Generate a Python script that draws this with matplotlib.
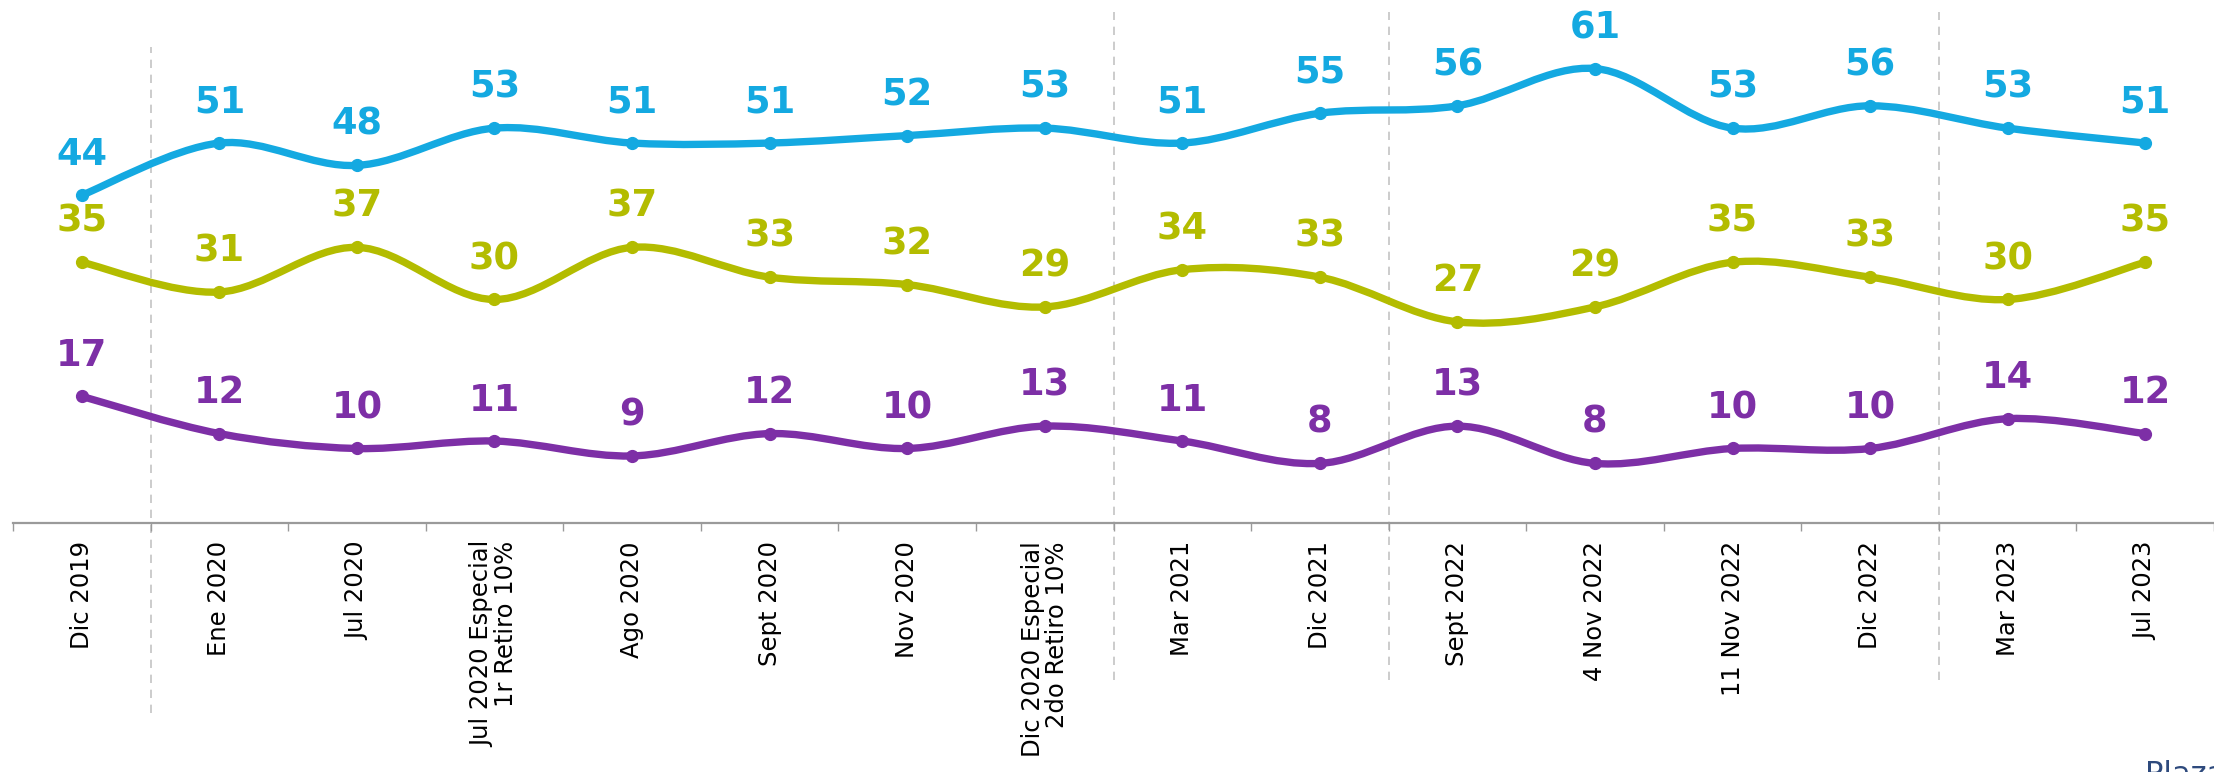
import numpy as np
import matplotlib
matplotlib.use('Agg')
import matplotlib.pyplot as plt
from matplotlib.path import Path
from matplotlib.patches import PathPatch

plt.rcParams['font.family'] = ['DejaVu Sans']

# data
fechas = ['Dic 2019', 'Ene 2020', 'Jul 2020', 'Jul 2020 Especial\n1r Retiro 10%', 'Ago 2020',
          'Sept 2020', 'Nov 2020', 'Dic 2020 Especial\n2do Retiro 10%', 'Mar 2021', 'Dic 2021',
          'Sept 2022', '4 Nov 2022', '11 Nov 2022', 'Dic 2022', 'Mar 2023', 'Jul 2023']
serie_azul = [44, 51, 48, 53, 51, 51, 52, 53, 51, 55, 56, 61, 53, 56, 53, 51]
serie_verde = [35, 31, 37, 30, 37, 33, 32, 29, 34, 33, 27, 29, 35, 33, 30, 35]
serie_morada = [17, 12, 10, 11, 9, 12, 10, 13, 11, 8, 13, 8, 10, 10, 14, 12]
cortes = [0.5, 7.5, 9.5, 13.5]  # dashed separators between groups

colores = {'azul': '#14A9E1', 'verde': '#B3BC00', 'morada': '#7D2FA6'}


def smooth_path(xs, ys):
    # catmull-rom spline drawn as cubic bezier segments
    pts = np.column_stack([xs, ys]).astype(float)
    ext = np.vstack([pts[0], pts, pts[-1]])
    verts = [tuple(pts[0])]
    codes = [Path.MOVETO]
    for i in range(1, len(ext) - 2):
        p0, p1, p2, p3 = ext[i - 1], ext[i], ext[i + 1], ext[i + 2]
        c1 = p1 + (p2 - p0) / 6.0
        c2 = p2 - (p3 - p1) / 6.0
        verts += [tuple(c1), tuple(c2), tuple(p2)]
        codes += [Path.CURVE4] * 3
    return Path(verts, codes)


fig = plt.figure(figsize=(22.14, 7.72), dpi=100)
ax = fig.add_axes([13 / 2214, 249 / 772, 2201 / 2214, 523 / 772])

x = np.arange(len(fechas))
for vals, key in [(serie_azul, 'azul'), (serie_verde, 'verde'), (serie_morada, 'morada')]:
    c = colores[key]
    ax.add_patch(PathPatch(smooth_path(x, vals), facecolor='none', edgecolor=c, lw=5.3,
                           capstyle='round', joinstyle='round', zorder=3))
    ax.plot(x, vals, 'o', color=c, ms=8.5, zorder=4)
    for xi, v in zip(x, vals):
        ax.annotate(str(v), (xi, v), xytext=(0, 29.5), textcoords='offset points',
                    ha='center', va='center', fontsize=26.5, fontweight='bold', color=c)

trans = ax.get_xaxis_transform()
for xc in cortes:
    if xc == 0.5:
        y0, y1 = -0.363, 0.91
    else:
        y0, y1 = -0.30, 0.977
    ax.plot([xc, xc], [y0, y1], transform=trans, color='#c4c4c4', lw=1.2, ls=(0, (5, 4)),
            clip_on=False, zorder=1)

ax.set_xlim(-0.5, len(fechas) - 0.5)
ax.set_ylim(0, 70.2)
for s in ['left', 'top', 'right']:
    ax.spines[s].set_visible(False)
ax.spines['bottom'].set_color('#9a9a9a')
ax.spines['bottom'].set_linewidth(1.6)
ax.set_yticks([])

ax.set_xticks(x)
ax.set_xticklabels(fechas, rotation=90, fontsize=17.5, ha='center', va='top',
                   multialignment='right', linespacing=1.0)
ax.set_xticks(np.arange(-0.5, len(fechas)), minor=True)
ax.tick_params(axis='x', which='major', length=0, pad=13)
ax.tick_params(axis='x', which='minor', length=6, width=1, color='#9a9a9a')

fig.text(2145 / 2214, 12 / 772, 'Plaza Pública', ha='left', va='top', fontsize=22,
         color='#2E4A7D')

fig.savefig('out.png', dpi=100)
